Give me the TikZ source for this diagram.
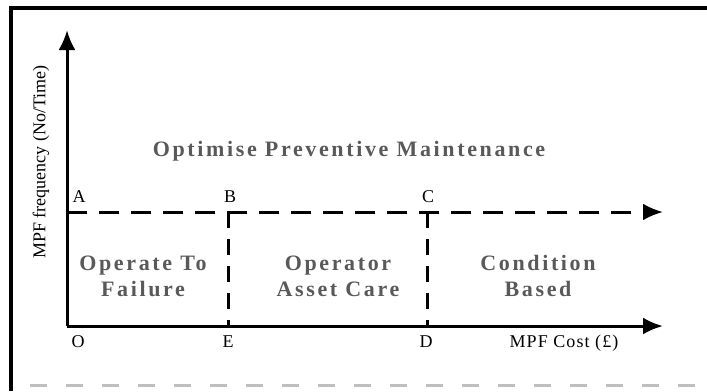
\documentclass[tikz,border=0pt]{standalone}
\usepackage{fontspec}
\setmainfont{Liberation Serif}
\newfontfamily\spacedfont[LetterSpace=12]{Liberation Serif}
\newfontfamily\axisfont[LetterSpace=6]{Liberation Serif}
\usetikzlibrary{arrows.meta}

\tikzset{
  axis/.style={line width=1.5pt},
  limitline/.style={line width=1.5pt, dash pattern=on 10pt off 6pt},
  splitline/.style={line width=1.5pt, dash pattern=on 8pt off 5.5pt},
  pointlabel/.style={font=\fontsize{9}{11}\selectfont, inner sep=0pt},
  regionlabel/.style={font=\spacedfont\bfseries\fontsize{11}{13}\selectfont, text=black!65, align=center, inner sep=0pt},
}

\begin{document}
\begin{tikzpicture}[x=0.5pt,y=-0.5pt,>={Latex[length=10pt,width=8.5pt]}]
\useasboundingbox (0,0) rectangle (707,391);

% frame
\draw[line width=1.6pt] (11,391) -- (11,8) -- (707,8);
\draw[line width=1.5pt, black!25, dash pattern=on 8.5pt off 9.5pt] (30,385) -- (707,385);

% points
\coordinate (O) at (67,326);
\coordinate (ytip) at (67,30);
\coordinate (xtip) at (663,326);
\coordinate (A) at (67,212);
\coordinate (atip) at (663,212);
\coordinate (B) at (228,212);
\coordinate (E) at (228,326);
\coordinate (C) at (427,212);
\coordinate (D) at (427,326);

% axes and limits
\draw[axis,->] (O) -- (ytip);
\draw[axis,->] (O) -- (xtip);
\draw[limitline,->] (A) -- (atip);
\draw[splitline] (B) -- (E);
\draw[splitline] (C) -- (D);

% letters
\node[pointlabel] (labA) at (79,197) {A};
\node[pointlabel] (labB) at (230,197) {B};
\node[pointlabel] (labC) at (428,197) {C};
\node[pointlabel] (labO) at (78,342) {O};
\node[pointlabel] (labE) at (228,342) {E};
\node[pointlabel] (labD) at (426,342) {D};

% axis titles
\node[pointlabel, font=\axisfont\fontsize{9}{11}\selectfont] (xtitle) at (564,343) {MPF Cost (£)};
\node[pointlabel, rotate=90] (ytitle) at (41,162) {MPF frequency (No/Time)};

% regions
\node[regionlabel] (optimise) at (349,151) {Optimise Preventive Maintenance};
\node[regionlabel] (failure) at (143,276) {Operate To\\Failure};
\node[regionlabel] (care) at (338,276) {Operator\\Asset Care};
\node[regionlabel] (condition) at (538,276) {Condition\\Based};
\end{tikzpicture}
\end{document}
